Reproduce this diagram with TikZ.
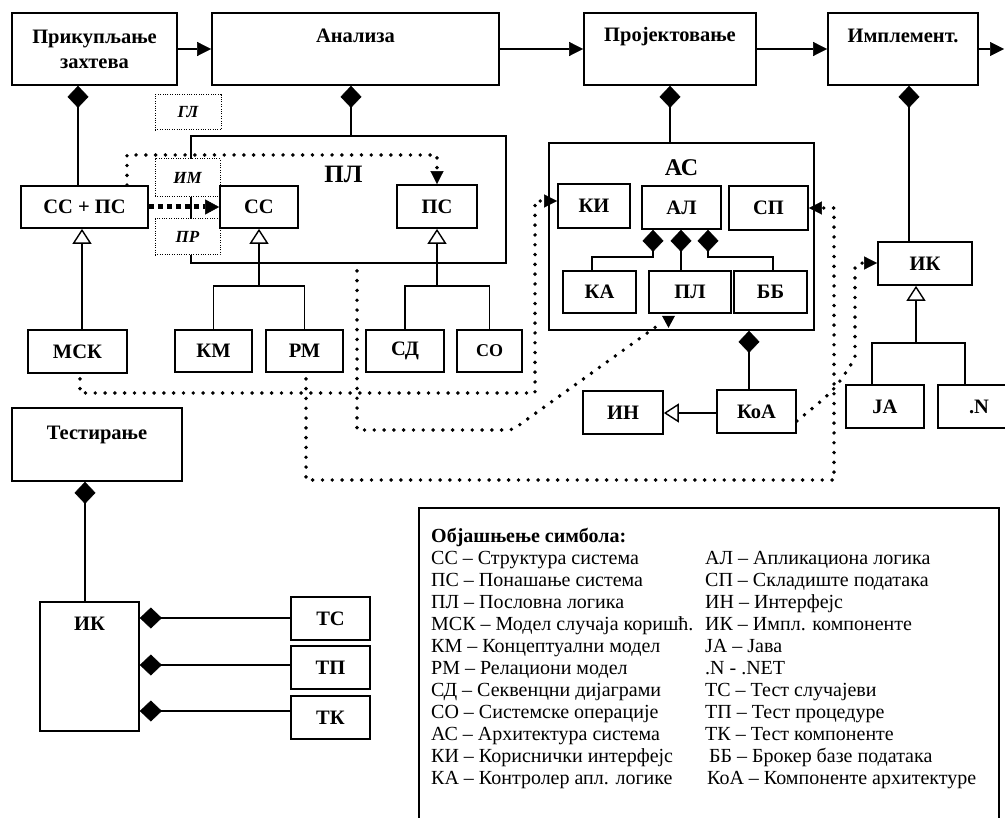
\documentclass[tikz,border=0pt]{standalone}
\usepackage{fontspec}
\setmainfont{Liberation Serif}
\usetikzlibrary{arrows.meta,calc}
\newcommand\lgrow[2]{\makebox[274pt][l]{#1}#2}
\begin{document}
\begin{tikzpicture}[x=1pt,y=-1pt,
  box/.style={draw,line width=1.7pt,fill=white,inner sep=0pt},
  dbox/.style={draw,line width=1pt,dash pattern=on 1pt off 1.4pt,fill=white,inner sep=0pt,font=\fontsize{17}{19}\selectfont\bfseries\itshape},
  bl/.style={font=\fontsize{20.5}{25}\selectfont\bfseries},
  ln/.style={line width=1.6pt},
  arr/.style={ln,-{Triangle[length=14pt,width=14pt,line width=0.5pt]}},
  compo/.style={ln,{Diamond[length=22pt,width=21pt,line width=0.5pt]}-},
  gen/.style={ln,-{Triangle[open,length=15pt,width=19pt,fill=white,line width=1.4pt]}},
  dots/.style={line width=3.9pt,dash pattern=on 0pt off 9.8pt,line cap=round},
  thdots/.style={line width=5pt,dash pattern=on 5pt off 4pt},
  dtip/.style={-{Triangle[length=13pt,width=13pt,line width=0.5pt]}},
]
\useasboundingbox (0,0) rectangle (1005,818);
\clip (0,0) rectangle (1005,818);

% ---- big containers
\node[box,minimum width=165pt,minimum height=72pt,bl,align=center] (pz) at (94.5,49) {Прикупљање\\захтева};
\node[box,minimum width=287pt,minimum height=72pt,label={[bl,anchor=center,yshift=-24pt]north:Анализа}] (an) at (355.5,49) {};
\node[box,minimum width=172pt,minimum height=72pt,label={[bl,anchor=center,yshift=-24pt]north:Пројектовање}] (pr) at (670,49) {};
\node[box,minimum width=150pt,minimum height=72pt,label={[bl,anchor=center,yshift=-24pt]north:Имплемент.}] (im) at (903,49) {};
\coordinate (outp) at (1004,49);

\node[box,minimum width=315pt,minimum height=127pt,label={[font=\fontsize{25}{28}\selectfont\bfseries,anchor=center,xshift=-5pt,yshift=-39pt]north:ПЛ}] (pl) at (348.5,199.5) {};
\node[box,minimum width=265pt,minimum height=187pt,label={[font=\fontsize{24}{26}\selectfont\bfseries,anchor=center,yshift=-26pt]north:АС}] (as) at (681.5,236.5) {};
\node[box,minimum width=170pt,minimum height=73pt,label={[bl,anchor=center,yshift=-28pt]north:Тестирање}] (test) at (97,444.5) {};
\node[box,minimum width=99pt,minimum height=129pt,label={[bl,anchor=center,yshift=-23pt]north:ИК}] (ikb) at (89.5,666.5) {};

% ---- dotted note boxes
\node[dbox,minimum width=66pt,minimum height=35pt] (gl) at (188,112.5) {ГЛ};
\node[dbox,minimum width=65pt,minimum height=38pt] (imb) at (187.5,178) {ИМ};
\node[dbox,minimum width=65pt,minimum height=36pt] (prb) at (187.5,237) {ПР};

% ---- small boxes
\node[box,bl,minimum width=127pt,minimum height=42pt] (cps) at (84.5,207) {СС + ПС};
\node[box,bl,minimum width=78pt,minimum height=42pt] (ss) at (259,207) {СС};
\node[box,bl,minimum width=80pt,minimum height=43pt] (ps) at (437,206.5) {ПС};
\node[box,bl,minimum width=99pt,minimum height=43pt] (msk) at (77.5,351.5) {МСК};
\node[box,bl,minimum width=77pt,minimum height=42pt] (km) at (213.5,351) {КМ};
\node[box,bl,minimum width=77pt,minimum height=42pt] (rm) at (304.5,351) {РМ};
\node[box,bl,minimum width=78pt,minimum height=42pt] (sd) at (405,351) {СД};
\node[box,font=\fontsize{18}{20}\selectfont\bfseries,minimum width=65pt,minimum height=42pt] (so) at (489.5,351) {СО};

\node[box,bl,minimum width=72pt,minimum height=44pt] (ki) at (594,206) {КИ};
\node[box,bl,minimum width=79pt,minimum height=43pt] (al) at (681.5,207.5) {АЛ};
\node[box,bl,minimum width=79pt,minimum height=44pt] (sp) at (768.5,208) {СП};
\node[box,bl,minimum width=73pt,minimum height=42pt] (ka) at (599.5,292) {КА};
\node[box,bl,minimum width=82pt,minimum height=42pt] (pli) at (690,292) {ПЛ};
\node[box,bl,minimum width=73pt,minimum height=42pt] (bb) at (770.5,292) {ББ};

\node[box,bl,minimum width=80pt,minimum height=43pt] (in) at (623,412.5) {ИН};
\node[box,bl,minimum width=79pt,minimum height=43pt] (koa) at (756.5,411.5) {КоА};

\node[box,bl,minimum width=94pt,minimum height=43pt] (ikr) at (925,263.5) {ИК};
\node[box,bl,minimum width=78pt,minimum height=43pt] (ja) at (885,406.5) {JA};
\node[box,bl,minimum width=82pt,minimum height=43pt] (dn) at (979,406.5) {.N};

\node[box,bl,minimum width=79pt,minimum height=43pt] (ts) at (330.5,618.5) {ТС};
\node[box,bl,minimum width=79pt,minimum height=43pt] (tp) at (330.5,667.5) {ТП};
\node[box,bl,minimum width=79pt,minimum height=43pt] (tk) at (330.5,717.5) {ТК};

% ---- legend
\node[draw,line width=1.7pt,minimum width=580pt,minimum height=340pt,anchor=north west,inner sep=0pt] (leg) at (418,507) {};
\node[anchor=north west,inner sep=0pt,align=left,font=\fontsize{20}{22}\selectfont] (legtxt) at (431,528) {%
{\bfseries Објашњење симбола:}\\
\lgrow{СС – Структура система}{АЛ – Апликациона логика}\\
\lgrow{ПС – Понашање система}{СП – Складиште података}\\
\lgrow{ПЛ – Пословна логика}{ИН – Интерфејс}\\
\lgrow{МСК – Модел случаја коришћ.}{ИК – Импл. компоненте}\\
\lgrow{КМ – Концептуални модел}{JA – Јава}\\
\lgrow{РМ – Релациони модел}{.N - .NET}\\
\lgrow{СД – Секвенцни дијаграми}{ТС – Тест случајеви}\\
\lgrow{СО – Системске операције}{ТП – Тест процедуре}\\
\lgrow{АС – Архитектура система}{ТК – Тест компоненте}\\
\lgrow{КИ – Кориснички интерфејс}{\hspace{4pt}ББ – Брокер базе података}\\
\lgrow{КА – Контролер апл. логике}{\hspace{2pt}КоА – Компоненте архитектуре}};

% ---- flow arrows
\draw[arr] (pz.east) -- (an.west);
\draw[arr] (an.east) -- (pr.west);
\draw[arr] (pr.east) -- (im.west);
\draw[arr] (im.east) -- (outp);

% ---- compositions
\draw[compo] (pz.south -| 78,0) -- (cps.north -| 78,0);
\draw[compo] (an.south -| 351,0) -- (pl.north -| 351,0);
\draw[compo] (pr.south -| 670,0) -- (as.north -| 670,0);
\draw[compo] (im.south -| 909,0) -- (ikr.north -| 909,0);
\draw[compo] (as.south -| 749,0) -- (koa.north -| 749,0);
\coordinate (ja1) at (592,257);
\coordinate (jb1) at (773,257);
\draw[compo] (al.south -| 653,0) |- (ja1) -- (ka.north -| ja1);
\draw[compo] (al.south -| 681,0) -- (pli.north -| 681,0);
\draw[compo] (al.south -| 708,0) |- (jb1) -- (bb.north -| jb1);
\draw[compo] (test.south -| 85,0) -- (ikb.north -| 85,0);
\draw[compo] (ikb.east |- 0,618) -- (ts.west |- 0,618);
\draw[compo] (ikb.east |- 0,665) -- (tp.west |- 0,665);
\draw[compo] (ikb.east |- 0,711) -- (tk.west |- 0,711);

% ---- generalisations
\draw[gen] (msk.north -| 82,0) -- (cps.south -| 82,0);
\coordinate (j1) at (259,286);
\draw[ln] (km.north) |- (j1) -| (rm.north);
\draw[gen] (j1) -- (ss.south);
\coordinate (j2) at (437,286);
\draw[ln] (sd.north) |- (j2) -| (so.north);
\draw[gen] (j2) -- (ps.south);
\coordinate (j3) at (916,343);
\draw[ln] (ja.north -| 872,0) |- (j3) -| (dn.north -| 965,0);
\draw[gen] (j3) -- (ikr.south -| j3);
\draw[gen] (koa.west |- 0,413) -- (in.east |- 0,413);

% ---- dotted dependencies
\draw[dots,dtip] (cps.north -| 127,0) -- (127,155) -| (ps.north);
\draw[thdots,-{Triangle[length=14pt,width=15pt,line width=0.5pt]}] (cps.east) -- (ss.west);
\draw[dots,dtip] ($(msk.south -| 80,0)+(0,5)$) -- (80,393) -- (535,393) -- (535,201) -- (ki.west |- 0,201);
\draw[dots] ($(pl.south -| 357,0)+(0,7)$) -- (357,430) -- (502,430) .. controls (513,430) .. (522,423) -- ($(pli.south -| 660,0)+(0,10)$);
\fill ($(pli.south -| 662,0)+(0,2)$) -- ++(13,0) -- ++(-6.5,12) -- cycle;
\draw[dots,dtip] ($(rm.south -| 306,0)+(0,6)$) -- (306,480) -- (834,480) -- (834,208) -- (sp.east |- 0,208);
\draw[dots,dtip] (koa.east |- 0,421) .. controls (835,390) .. (855,358) -- (855,272) .. controls (855,264) .. (863,263) -- (ikr.west |- 0,263);
\end{tikzpicture}
\end{document}
